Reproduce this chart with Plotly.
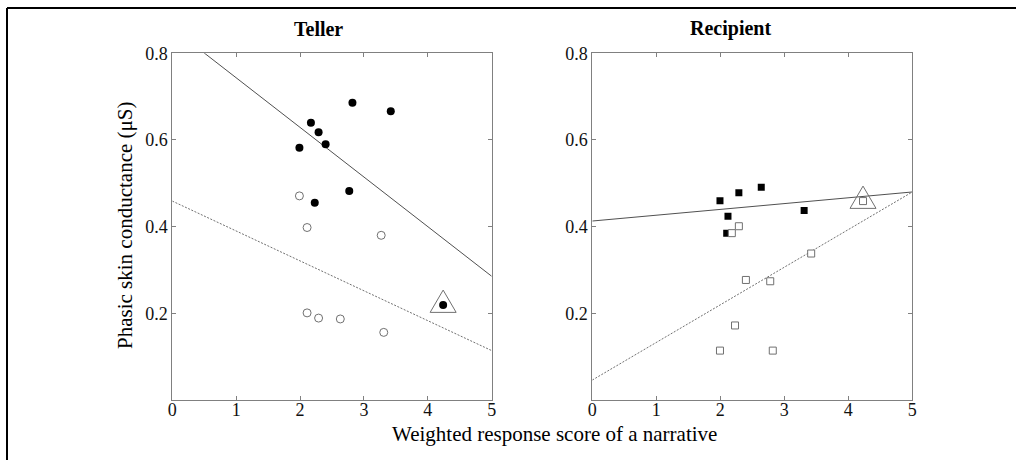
import plotly.graph_objects as go

# ---------------- data ----------------
teller_filled_x = [1.99, 2.17, 2.29, 2.40, 2.82, 3.42, 2.77, 2.23, 4.24]
teller_filled_y = [0.582, 0.640, 0.618, 0.590, 0.686, 0.666, 0.482, 0.455, 0.219]
teller_open_x = [1.99, 2.11, 3.27, 2.11, 2.29, 2.63, 3.31]
teller_open_y = [0.471, 0.398, 0.380, 0.201, 0.189, 0.187, 0.156]
teller_highlight = (4.24, 0.219)

recip_filled_x = [1.995, 2.29, 2.64, 3.31, 2.12, 2.10]
recip_filled_y = [0.460, 0.478, 0.491, 0.437, 0.424, 0.385]
recip_open_x = [2.18, 2.29, 3.42, 2.40, 2.78, 2.23, 1.995, 2.82, 4.23]
recip_open_y = [0.385, 0.401, 0.338, 0.277, 0.274, 0.172, 0.114, 0.114, 0.459]
recip_highlight = (4.23, 0.459)

# regression lines: (intercept, slope)
teller_fit_filled = (0.858, -0.1145)
teller_fit_open = (0.459, -0.069)
recip_fit_filled = (0.413, 0.0134)
recip_fit_open = (0.046, 0.0868)

x_ticks = [0, 1, 2, 3, 4, 5]
y_ticks = [0.2, 0.4, 0.6, 0.8]
panel_titles = ["Teller", "Recipient"]
x_title = "Weighted response score of a narrative"
y_title = "Phasic skin conductance (μS)"

# ---------------- styles ----------------
W, H = 1016, 460
FONT = "Liberation Serif"
AXIS_GREY = "#808080"
OPEN_GREY = "#707070"

fig = go.Figure()

def fit_line(fit, xa, ya, dash, color):
    b, m = fit
    xs = [x_ticks[0], x_ticks[-1]]
    ys = [b + m * v for v in xs]
    fig.add_trace(go.Scatter(x=xs, y=ys, mode="lines", xaxis=xa, yaxis=ya,
                             line=dict(color=color, width=1, dash=dash),
                             hoverinfo="skip", showlegend=False))

# Teller panel
fit_line(teller_fit_filled, "x", "y", "solid", "#505050")
fit_line(teller_fit_open, "x", "y", "2px,1.5px", "#707070")
fig.add_trace(go.Scatter(x=teller_open_x, y=teller_open_y, mode="markers",
                         xaxis="x", yaxis="y", showlegend=False,
                         marker=dict(symbol="circle", size=8, color="white",
                                     line=dict(color=OPEN_GREY, width=1))))
fig.add_trace(go.Scatter(x=teller_filled_x, y=teller_filled_y, mode="markers",
                         xaxis="x", yaxis="y", showlegend=False,
                         marker=dict(symbol="circle", size=8, color="black",
                                     line=dict(width=0))))

# Recipient panel
fit_line(recip_fit_filled, "x2", "y2", "solid", "#505050")
fit_line(recip_fit_open, "x2", "y2", "2px,1.5px", "#707070")
fig.add_trace(go.Scatter(x=recip_filled_x, y=recip_filled_y, mode="markers",
                         xaxis="x2", yaxis="y2", showlegend=False,
                         marker=dict(symbol="square", size=7, color="black",
                                     line=dict(width=0))))
fig.add_trace(go.Scatter(x=recip_open_x, y=recip_open_y, mode="markers",
                         xaxis="x2", yaxis="y2", showlegend=False,
                         marker=dict(symbol="square", size=7, color="white",
                                     line=dict(color=OPEN_GREY, width=1))))

# highlight triangles (pixel-sized path anchored at the data point)
tri_path = "M -13,-7.3 L 13,-7.3 L 0,15 Z"
shapes = []
for (hx, hy), xr, yr in [(teller_highlight, "x", "y"), (recip_highlight, "x2", "y2")]:
    shapes.append(dict(type="path", path=tri_path, xref=xr, yref=yr,
                       xsizemode="pixel", ysizemode="pixel",
                       xanchor=hx, yanchor=hy,
                       line=dict(color=OPEN_GREY, width=1), fillcolor="rgba(0,0,0,0)"))

# outer frame (top and left lines)
shapes.append(dict(type="line", xref="paper", yref="paper",
                   x0=7 / W, x1=1.0, y0=1 - 8 / H, y1=1 - 8 / H,
                   line=dict(color="black", width=2)))
shapes.append(dict(type="line", xref="paper", yref="paper",
                   x0=7 / W, x1=7 / W, y0=0, y1=1 - 8 / H,
                   line=dict(color="black", width=2)))

axis_common = dict(showline=True, linecolor=AXIS_GREY, linewidth=1, mirror="ticks",
                   ticks="inside", ticklen=4, tickcolor=AXIS_GREY, showgrid=False,
                   zeroline=False, automargin=False,
                   tickfont=dict(family=FONT, size=18, color="#111"))

y_dom = [1 - 400 / H, 1 - 53.3 / H]
ann_common = dict(xref="paper", yref="paper", xanchor="center", yanchor="middle", showarrow=False)
fig.update_layout(
    width=W, height=H, margin=dict(l=0, r=0, t=0, b=0, pad=0, autoexpand=False),
    font=dict(family=FONT, size=18, color="#111"),
    paper_bgcolor="white", plot_bgcolor="white",
    xaxis=dict(domain=[172.3 / W, 491.7 / W], range=[0, 5], tickvals=x_ticks, anchor="y",
               ticklabelstandoff=-7, **axis_common),
    yaxis=dict(domain=y_dom, range=[0, 0.8], tickvals=y_ticks,
               ticktext=[f"{v:.1f}" for v in y_ticks], anchor="x", **axis_common),
    xaxis2=dict(domain=[592.3 / W, 912.3 / W], range=[0, 5], tickvals=x_ticks, anchor="y2",
                ticklabelstandoff=-7, **axis_common),
    yaxis2=dict(domain=y_dom, range=[0, 0.8], tickvals=y_ticks,
                ticktext=[f"{v:.1f}" for v in y_ticks], anchor="x2", **axis_common),
    shapes=shapes,
    annotations=[
        dict(text=f"<b>{panel_titles[0]}</b>", x=318 / W, y=1 - 29 / H,
             font=dict(family=FONT, size=20, color="black"), **ann_common),
        dict(text=f"<b>{panel_titles[1]}</b>", x=730 / W, y=1 - 29 / H,
             font=dict(family=FONT, size=20, color="black"), **ann_common),
        dict(text=x_title, x=554 / W, y=1 - 434 / H,
             font=dict(family=FONT, size=21, color="black"), **ann_common),
        dict(text=y_title, x=125 / W, y=1 - 226 / H, textangle=-90,
             font=dict(family=FONT, size=21, color="black"), **ann_common),
    ],
)

fig.write_html("out.html", config={"displayModeBar": False})
